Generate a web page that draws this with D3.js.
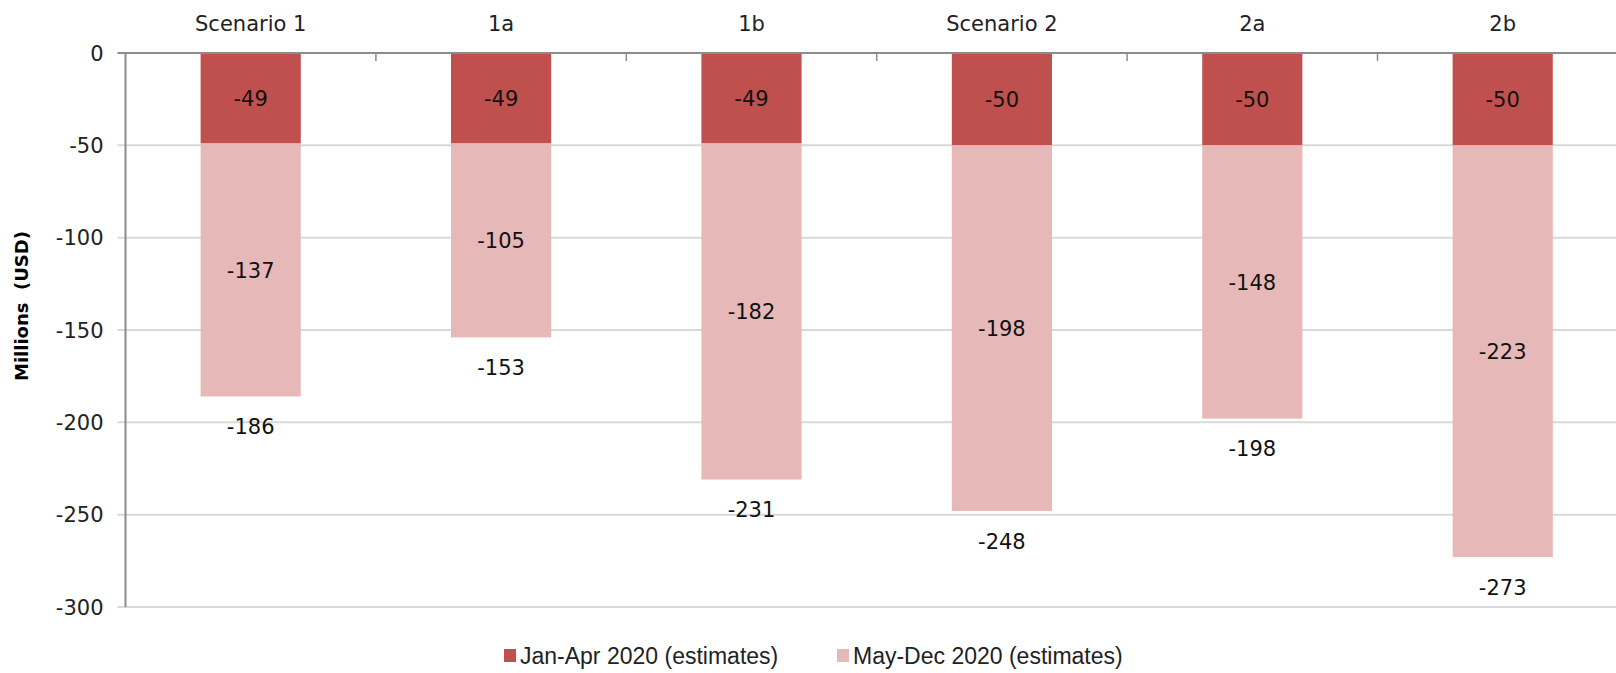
<!doctype html>
<html lang="en">
<head>
<meta charset="utf-8">
<title>Scenario losses</title>
<script src="https://d3js.org/d3.v7.min.js"></script>
<style>
  html, body { margin: 0; padding: 0; background: #fff; }
  svg { display: block; font-family: "DejaVu Sans", Verdana, sans-serif; }
</style>
</head>
<body>
<div id="chart"></div>
<script>
var categories = ["Scenario 1", "1a", "1b", "Scenario 2", "2a", "2b"];
var janApr = [-49, -49, -49, -50, -50, -50];
var mayDec = [-137, -105, -182, -198, -148, -223];
var totals = [-186, -153, -231, -248, -198, -273];
var yTicks = [0, -50, -100, -150, -200, -250, -300];
var seriesNames = ["Jan-Apr 2020 (estimates)", "May-Dec 2020 (estimates)"];
var colors = ["#c0504d", "#e6b9b8"];

var width = 1616, height = 673;
var plotLeft = 125.5, plotTop = 53, plotH = 554;

var svg = d3.select("#chart").append("svg")
    .attr("width", width)
    .attr("height", height);

var x = d3.scaleBand()
    .domain(categories)
    .range([plotLeft, plotLeft + 6 * 250.4])
    .paddingInner(0.6)
    .paddingOuter(0.3);

var y = d3.scaleLinear()
    .domain([0, -300])
    .range([plotTop, plotTop + plotH]);

// gridlines
svg.append("g")
    .selectAll("line")
    .data(yTicks.slice(1))
    .enter().append("line")
    .attr("x1", plotLeft - 8)
    .attr("x2", width)
    .attr("y1", function (d) { return y(d); })
    .attr("y2", function (d) { return y(d); })
    .attr("stroke", "#d9d9d9")
    .attr("stroke-width", 2);

// y tick labels
svg.append("g")
    .selectAll("text")
    .data(yTicks)
    .enter().append("text")
    .attr("x", plotLeft - 22)
    .attr("y", function (d) { return y(d); })
    .attr("dy", "0.36em")
    .attr("text-anchor", "end")
    .attr("font-size", 21)
    .attr("fill", "#222")
    .text(function (d) { return d; });

// stacked bars
var rows = categories.map(function (c, i) {
    return { cat: c, jan: janApr[i], may: mayDec[i], total: totals[i] };
});

var stack = d3.stack().keys(["jan", "may"]).offset(d3.stackOffsetDiverging);
var layers = stack(rows);

var groups = svg.append("g")
    .selectAll("g")
    .data(layers)
    .enter().append("g")
    .attr("fill", function (d, i) { return colors[i]; });

groups.selectAll("rect")
    .data(function (d) { return d; })
    .enter().append("rect")
    .attr("x", function (d) { return x(d.data.cat); })
    .attr("width", x.bandwidth())
    .attr("y", function (d) { return y(d[1]); })
    .attr("height", function (d) { return y(d[0]) - y(d[1]); });

// segment labels
groups.selectAll("text")
    .data(function (d) { return d.map(function (p) { return { p: p, key: d.key }; }); })
    .enter().append("text")
    .attr("x", function (d) { return x(d.p.data.cat) + x.bandwidth() / 2; })
    .attr("y", function (d) { return (y(d.p[0]) + y(d.p[1])) / 2; })
    .attr("dy", "0.36em")
    .attr("text-anchor", "middle")
    .attr("font-size", 21)
    .attr("fill", "#111")
    .text(function (d) { return d.p.data[d.key]; });

// total labels under bars
svg.append("g")
    .selectAll("text")
    .data(rows)
    .enter().append("text")
    .attr("x", function (d) { return x(d.cat) + x.bandwidth() / 2; })
    .attr("y", function (d) { return y(d.jan + d.may) + 30; })
    .attr("dy", "0.36em")
    .attr("text-anchor", "middle")
    .attr("font-size", 21)
    .attr("fill", "#111")
    .text(function (d) { return d.total; });

// category axis on top (at zero)
var xAxis = svg.append("g");
xAxis.append("line")
    .attr("x1", plotLeft - 8).attr("x2", width)
    .attr("y1", y(0)).attr("y2", y(0))
    .attr("stroke", "#8c8c8c").attr("stroke-width", 2);
xAxis.selectAll(".tick")
    .data(categories.slice(1))
    .enter().append("line")
    .attr("x1", function (d) { return x(d) - x.step() * x.paddingInner() / 2; })
    .attr("x2", function (d) { return x(d) - x.step() * x.paddingInner() / 2; })
    .attr("y1", y(0)).attr("y2", y(0) + 8)
    .attr("stroke", "#8c8c8c").attr("stroke-width", 1.5);
xAxis.selectAll("text")
    .data(categories)
    .enter().append("text")
    .attr("x", function (d) { return x(d) + x.bandwidth() / 2; })
    .attr("y", 23)
    .attr("dy", "0.36em")
    .attr("text-anchor", "middle")
    .attr("font-size", 21)
    .attr("fill", "#222")
    .text(function (d) { return d; });

// y axis line
svg.append("line")
    .attr("x1", plotLeft).attr("x2", plotLeft)
    .attr("y1", y(0)).attr("y2", y(-300))
    .attr("stroke", "#8c8c8c").attr("stroke-width", 2);

// y axis title
svg.append("text")
    .attr("transform", "translate(22,306) rotate(-90)")
    .attr("dy", "0.36em")
    .attr("text-anchor", "middle")
    .attr("font-size", 18)
    .attr("font-weight", "bold")
    .attr("fill", "#000")
    .attr("xml:space", "preserve")
    .text("Millions  (USD)");

// legend
var legendX = [504, 837];
var legend = svg.append("g")
    .selectAll("g")
    .data(seriesNames)
    .enter().append("g")
    .attr("transform", function (d, i) { return "translate(" + legendX[i] + ",649)"; });
legend.append("rect")
    .attr("width", 12).attr("height", 13)
    .attr("fill", function (d, i) { return colors[i]; });
legend.append("text")
    .attr("x", 16)
    .attr("y", 7)
    .attr("dy", "0.36em")
    .attr("font-family", "'Liberation Sans', sans-serif")
    .attr("font-size", 23)
    .attr("fill", "#222")
    .text(function (d) { return d; });
</script>
</body>
</html>
